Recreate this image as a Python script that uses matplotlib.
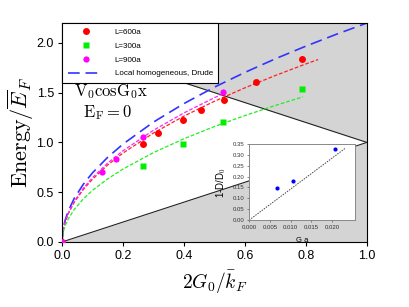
import matplotlib
matplotlib.use("Agg")
import matplotlib.pyplot as plt

plt.rcParams['font.family'] = ['Liberation Sans', 'DejaVu Sans']
plt.rcParams['mathtext.fontset'] = 'cm'

# Data points
x600 = [0.0, 0.266, 0.316, 0.396, 0.454, 0.532, 0.636, 0.788]
y600 = [0.0, 0.985, 1.095, 1.223, 1.323, 1.43, 1.61, 1.843]
x300 = [0.264, 0.396, 0.527, 0.788]
y300 = [0.767, 0.98, 1.206, 1.538]
x900 = [0.0, 0.131, 0.176, 0.266, 0.528]
y900 = [0.0, 0.707, 0.831, 1.052, 1.504]

# Fit curves
xb = [0, 0.002, 0.005, 0.01, 0.02, 0.04, 0.07, 0.1, 0.15, 0.2, 0.3, 0.4, 0.5, 0.6, 0.7, 0.8, 0.9, 1.0]
yb = [0, 0.098, 0.156, 0.22, 0.311, 0.44, 0.582, 0.696, 0.852, 0.984, 1.205, 1.391, 1.556, 1.704, 1.841, 1.968, 2.087, 2.2]
xr = [0, 0.002, 0.005, 0.01, 0.02, 0.04, 0.07, 0.1, 0.15, 0.2, 0.3, 0.4, 0.5, 0.6, 0.7, 0.8, 0.84]
yr = [0, 0.089, 0.141, 0.2, 0.283, 0.4, 0.529, 0.632, 0.775, 0.894, 1.095, 1.265, 1.414, 1.549, 1.673, 1.789, 1.833]
xm = [0, 0.002, 0.005, 0.01, 0.02, 0.04, 0.07, 0.1, 0.15, 0.2, 0.3, 0.4, 0.5, 0.53]
ym = [0, 0.092, 0.145, 0.205, 0.29, 0.41, 0.542, 0.648, 0.794, 0.917, 1.123, 1.297, 1.45, 1.492]
xg = [0, 0.002, 0.005, 0.01, 0.02, 0.04, 0.07, 0.1, 0.15, 0.2, 0.3, 0.4, 0.5, 0.6, 0.7, 0.79]
yg = [0, 0.073, 0.116, 0.164, 0.232, 0.328, 0.434, 0.519, 0.635, 0.733, 0.898, 1.037, 1.16, 1.27, 1.372, 1.458]

# Continuum boundaries
bx = [0.0, 1.0]
upper_b = [2.0, 1.0]
lower_b = [0.0, 1.0]

# Inset data
ix = [0.0068, 0.0105, 0.0208]
iy = [0.147, 0.178, 0.325]
ilx = [0.0, 0.0232]
ily = [0.0, 0.331]

fig = plt.figure(figsize=(4.09, 3.07), dpi=100)
ax = fig.add_axes([0.152, 0.212, 0.745, 0.713])
ax.set_xlim(0, 1.0)
ax.set_ylim(0, 2.2)

gray = '#d4d4d4'
ax.fill_between(bx, upper_b, [2.2, 2.2], color=gray, lw=0, zorder=0)
ax.fill_between(bx, [0, 0], lower_b, color=gray, lw=0, zorder=0)
ax.plot(bx, upper_b, color='#222222', lw=0.8, zorder=1)
ax.plot(bx, lower_b, color='#222222', lw=0.8, zorder=1)

ax.plot(xb, yb, color='#3333ff', lw=1.2, dashes=(7, 3.5), zorder=2)
ax.plot(xr, yr, color='#ff2222', lw=0.9, dashes=(3, 1.5), zorder=2)
ax.plot(xm, ym, color='#ff22ff', lw=0.9, dashes=(3, 1.5), zorder=2)
ax.plot(xg, yg, color='#22ee22', lw=0.9, dashes=(3, 1.5), zorder=2)

h1, = ax.plot(x600, y600, 'o', color='#ff0000', ms=5, mec='none', zorder=4, label='L=600a')
h2, = ax.plot(x300, y300, 's', color='#00ee00', ms=4, mec='none', zorder=4, label='L=300a')
h3, = ax.plot(x900, y900, 'o', color='#ff00ff', ms=4.5, mec='none', zorder=5, label='L=900a')
h4, = ax.plot([], [], color='#3333ff', lw=1.2, dashes=(7, 3.5), label='Local homogeneous, Drude')

leg = ax.legend(handles=[h1, h2, h3, h4], loc='upper left', borderaxespad=0,
                fontsize=5.8, frameon=True, fancybox=False, edgecolor='black',
                framealpha=1, handlelength=4.4, handletextpad=1.4,
                labelspacing=0.75, borderpad=0.7)
leg.get_frame().set_linewidth(0.8)
leg.set_zorder(10)

ax.text(0.04, 1.51, r'$\mathrm{V_0cosG_0x}$', fontsize=12, va='center', ha='left')
ax.text(0.07, 1.30, r'$\mathrm{E_F=0}$', fontsize=12, va='center', ha='left')

ax.set_xticks([0.0, 0.2, 0.4, 0.6, 0.8, 1.0])
ax.set_yticks([0.0, 0.5, 1.0, 1.5, 2.0])
ax.set_xticklabels(['0.0', '0.2', '0.4', '0.6', '0.8', '1.0'])
ax.set_yticklabels(['0.0', '0.5', '1.0', '1.5', '2.0'])
ax.tick_params(direction='out', length=3, width=0.8, labelsize=9, pad=3)
for s in ax.spines.values():
    s.set_linewidth(0.8)
ax.set_xlabel(r'$2G_0/\bar{k}_F$', fontsize=14)
ax.set_ylabel(r'$\mathrm{Energy}/\overline{E}_F$', fontsize=16)
ax.xaxis.set_label_coords(0.5, -0.125)
ax.yaxis.set_label_coords(-0.087, 0.5)

# Inset
ins = fig.add_axes([0.609, 0.283, 0.259, 0.248])
ins.set_zorder(20)
ins.set_facecolor('white')
ins.set_xlim(0, 0.0255)
ins.set_ylim(0, 0.35)
ins.plot(ilx, ily, color='#444444', lw=0.7, dashes=(1.5, 1.2))
ins.plot(ix, iy, 'o', color='#0000ff', ms=3, mec='none')
ins.set_xticks([0.0, 0.005, 0.010, 0.015, 0.020])
ins.set_xticklabels(['0.000', '0.005', '0.010', '0.015', '0.020'])
ins.set_yticks([0.0, 0.05, 0.10, 0.15, 0.20, 0.25, 0.30, 0.35])
ins.set_yticklabels(['0.00', '0.05', '0.10', '0.15', '0.20', '0.25', '0.30', '0.35'])
ins.tick_params(direction='out', length=1.5, width=0.5, labelsize=4.3, pad=2,
                colors='#555555', labelcolor='#333333')
for s in ins.spines.values():
    s.set_linewidth(0.7)
    s.set_color('#888888')
ins.set_xlabel('G a', fontsize=5.5, labelpad=5)
ins.set_ylabel(r'1-D/D$_0$', fontsize=7, labelpad=3)

fig.savefig('out.png', dpi=100)
